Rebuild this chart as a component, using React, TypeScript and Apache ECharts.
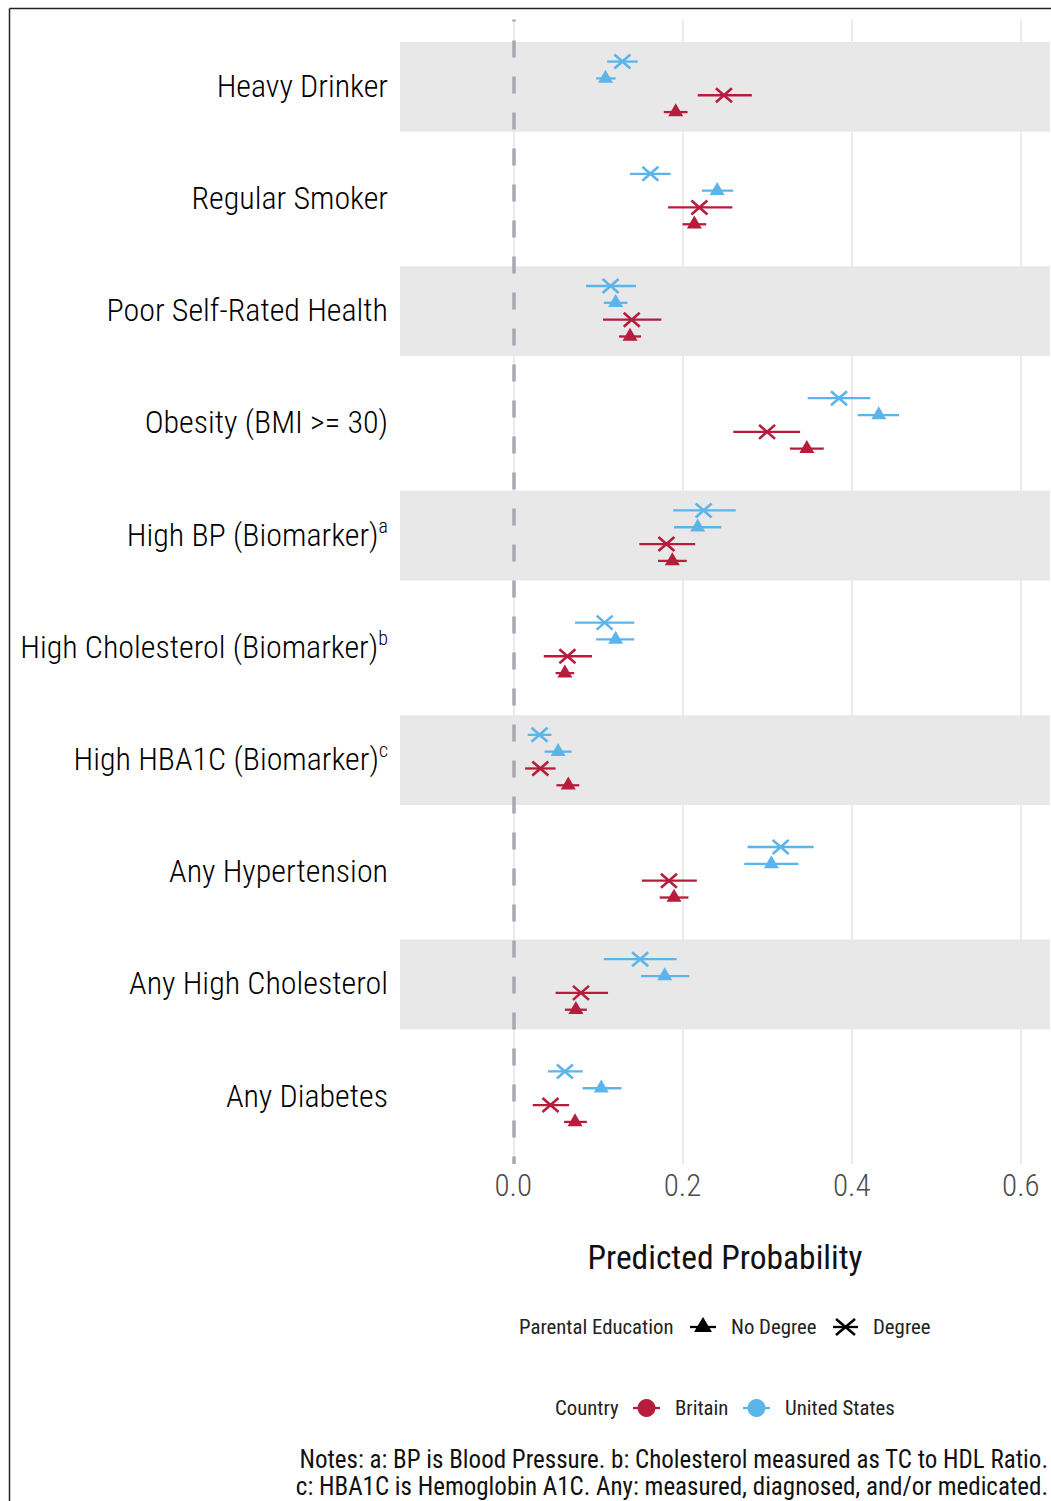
import React, { useEffect, useRef } from "react";
import * as echarts from "echarts";

const categories = [
  "Heavy Drinker",
  "Regular Smoker",
  "Poor Self-Rated Health",
  "Obesity (BMI >= 30)",
  "High BP (Biomarker)",
  "High Cholesterol (Biomarker)",
  "High HBA1C (Biomarker)",
  "Any Hypertension",
  "Any High Cholesterol",
  "Any Diabetes",
];
const superscripts = ["", "", "", "", "a", "b", "c", "", "", ""];
const bandRows = [0, 2, 4, 6, 8];
const xTicks = [0, 0.2, 0.4, 0.6];

// [estimate, lower, upper]
const usDegree = [
  [0.129, 0.111, 0.147],
  [0.162, 0.138, 0.186],
  [0.115, 0.086, 0.145],
  [0.385, 0.348, 0.422],
  [0.225, 0.189, 0.263],
  [0.108, 0.073, 0.143],
  [0.031, 0.017, 0.045],
  [0.316, 0.277, 0.355],
  [0.15, 0.107, 0.193],
  [0.061, 0.041, 0.082],
];
const usNoDegree = [
  [0.109, 0.098, 0.121],
  [0.241, 0.223, 0.26],
  [0.121, 0.107, 0.135],
  [0.432, 0.407, 0.456],
  [0.218, 0.19, 0.246],
  [0.121, 0.098, 0.143],
  [0.053, 0.037, 0.069],
  [0.305, 0.273, 0.337],
  [0.179, 0.151, 0.208],
  [0.104, 0.082, 0.128],
];
const britainDegree = [
  [0.249, 0.218, 0.282],
  [0.22, 0.183, 0.259],
  [0.14, 0.106, 0.175],
  [0.3, 0.26, 0.339],
  [0.181, 0.149, 0.215],
  [0.064, 0.036, 0.093],
  [0.032, 0.014, 0.05],
  [0.184, 0.152, 0.217],
  [0.08, 0.05, 0.112],
  [0.044, 0.023, 0.066],
];
const britainNoDegree = [
  [0.192, 0.178, 0.206],
  [0.214, 0.2, 0.228],
  [0.138, 0.125, 0.151],
  [0.347, 0.327, 0.367],
  [0.188, 0.171, 0.205],
  [0.061, 0.05, 0.072],
  [0.065, 0.051, 0.078],
  [0.19, 0.173, 0.207],
  [0.074, 0.061, 0.087],
  [0.073, 0.06, 0.087],
];

const RED = "#B71C3C";
const BLUE = "#5CB5EA";
const FONT =
  "'Roboto Condensed','Liberation Sans Narrow','DejaVu Sans Condensed','Arial Narrow',Roboto,sans-serif";
const X_MIN = -0.1339;
const X_MAX = 0.6344;
const LABEL_COLOR = "#4d4d4d";

function groupSeries(
  name: string,
  data: number[][],
  dodge: number,
  color: string,
  shape: "triangle" | "cross"
) {
  return {
    type: "custom",
    name,
    z: 5,
    data: data.map((d, i) => [d[0], d[1], d[2], i]),
    encode: { x: [0, 1, 2], y: 3 },
    renderItem: (_p: any, api: any) => {
      const yv = api.value(3) + dodge;
      const c = api.coord([api.value(0), yv]);
      const lo = api.coord([api.value(1), yv]);
      const hi = api.coord([api.value(2), yv]);
      const children: any[] = [
        {
          type: "line",
          shape: { x1: lo[0], y1: lo[1], x2: hi[0], y2: hi[1] },
          style: { stroke: color, lineWidth: 2.3 },
        },
      ];
      if (shape === "triangle") {
        children.push({
          type: "polygon",
          shape: {
            points: [
              [c[0], c[1] - 8.7],
              [c[0] - 7.5, c[1] + 4.3],
              [c[0] + 7.5, c[1] + 4.3],
            ],
          },
          style: { fill: color },
        });
      } else {
        children.push(
          {
            type: "line",
            shape: { x1: c[0] - 8, y1: c[1] - 7, x2: c[0] + 8, y2: c[1] + 7 },
            style: { stroke: color, lineWidth: 2.6 },
          },
          {
            type: "line",
            shape: { x1: c[0] - 8, y1: c[1] + 7, x2: c[0] + 8, y2: c[1] - 7 },
            style: { stroke: color, lineWidth: 2.6 },
          }
        );
      }
      return { type: "group", children };
    },
  };
}

export default function App() {
  const ref = useRef<HTMLDivElement>(null);
  useEffect(() => {
    if (!ref.current) return;
    const chart = echarts.init(ref.current, undefined, { renderer: "svg" });
    const legendY1 = 1327;
    const legendY2 = 1408;
    const legText = (text: string, x: number, y: number) => ({
      type: "text",
      x,
      y,
      style: { text, fontSize: 20.8, fill: "#222", fontFamily: FONT, verticalAlign: "middle" },
    });
    const option: any = {
      animation: false,
      backgroundColor: "#ffffff",
      textStyle: { fontFamily: FONT },
      grid: { left: 400, right: 1, top: 19.5, bottom: 337, containLabel: false },
      xAxis: {
        type: "value",
        min: X_MIN,
        max: X_MAX,
        splitNumber: 4,
        axisLine: { show: false },
        axisTick: { show: false },
        axisLabel: {
          showMinLabel: false,
          showMaxLabel: false,
          fontSize: 31,
          fontWeight: 300,
          color: LABEL_COLOR,
          fontFamily: FONT,
          margin: 6,
          formatter: (v: number) => (xTicks.some((t) => Math.abs(t - v) < 1e-6) ? v.toFixed(1) : ""),
        },
        splitLine: {
          show: true,
          showMinLine: false,
          showMaxLine: false,
          lineStyle: { color: "#E6E6E8", width: 1.6 },
        },
        name: "Predicted Probability",
        nameLocation: "middle",
        nameGap: 76,
        nameTextStyle: { fontSize: 33.5, color: "#111", fontFamily: FONT },
      },
      yAxis: {
        type: "value",
        min: -0.6,
        max: 9.6,
        inverse: true,
        show: false,
      },
      series: [
        {
          type: "custom",
          name: "bands",
          z: 1,
          silent: true,
          data: bandRows.map((r) => [r]),
          encode: { y: 0 },
          renderItem: (_p: any, api: any) => {
            const r = api.value(0);
            const a = api.coord([X_MIN, r - 0.4]);
            const b = api.coord([X_MAX, r + 0.4]);
            return {
              type: "rect",
              shape: { x: a[0], y: a[1], width: b[0] - a[0], height: b[1] - a[1] },
              style: { fill: "#E8E8E8" },
            };
          },
        },
        {
          type: "custom",
          name: "labels",
          z: 2,
          silent: true,
          data: categories.map((_c, i) => [X_MIN, i]),
          encode: { x: 0, y: 1 },
          renderItem: (p: any, api: any) => {
            const i = p.dataIndex;
            const c = api.coord([X_MIN, api.value(1)]);
            const sup = superscripts[i];
            const text = sup ? `{n|${categories[i]}}{s|${sup}}` : `{n|${categories[i]}}`;
            return {
              type: "text",
              x: c[0] - 12,
              y: c[1] - 1,
              style: {
                text,
                align: "right",
                verticalAlign: "middle",
                rich: {
                  n: { fontSize: 32, fontWeight: 300, color: LABEL_COLOR, fontFamily: FONT, lineHeight: 38 },
                  s: {
                    fontSize: 20,
                    fontWeight: 300,
                    color: LABEL_COLOR,
                    fontFamily: FONT,
                    verticalAlign: "top",
                    lineHeight: 20,
                  },
                },
              },
            };
          },
          markLine: {
            silent: true,
            symbol: "none",
            label: { show: false },
            lineStyle: { color: "#A6A8B2", width: 3.5, type: [17, 19], dashOffset: 15 },
            data: [{ xAxis: 0 }],
          },
        },
        groupSeries("United States - Degree", usDegree, -0.225, BLUE, "cross"),
        groupSeries("United States - No Degree", usNoDegree, -0.075, BLUE, "triangle"),
        groupSeries("Britain - Degree", britainDegree, 0.075, RED, "cross"),
        groupSeries("Britain - No Degree", britainNoDegree, 0.225, RED, "triangle"),
      ],
      graphic: [
        // frame
        { type: "line", shape: { x1: 9.5, y1: 8.5, x2: 1051, y2: 8.5 }, style: { stroke: "#222", lineWidth: 1.5 } },
        { type: "line", shape: { x1: 9.5, y1: 8.5, x2: 9.5, y2: 1501 }, style: { stroke: "#222", lineWidth: 1.5 } },
        // legend 1
        legText("Parental Education", 519, legendY1),
        { type: "line", shape: { x1: 690, y1: legendY1, x2: 716, y2: legendY1 }, style: { stroke: "#000", lineWidth: 2.3 } },
        {
          type: "polygon",
          shape: { points: [[703, legendY1 - 10], [694, legendY1 + 5], [712, legendY1 + 5]] },
          style: { fill: "#000" },
        },
        legText("No Degree", 731, legendY1),
        { type: "line", shape: { x1: 833, y1: legendY1, x2: 858, y2: legendY1 }, style: { stroke: "#000", lineWidth: 2.3 } },
        { type: "line", shape: { x1: 836, y1: legendY1 - 8, x2: 855, y2: legendY1 + 8 }, style: { stroke: "#000", lineWidth: 2.6 } },
        { type: "line", shape: { x1: 836, y1: legendY1 + 8, x2: 855, y2: legendY1 - 8 }, style: { stroke: "#000", lineWidth: 2.6 } },
        legText("Degree", 873, legendY1),
        // legend 2
        legText("Country", 555, legendY2),
        { type: "line", shape: { x1: 633, y1: legendY2, x2: 660, y2: legendY2 }, style: { stroke: RED, lineWidth: 2.3 } },
        { type: "circle", shape: { cx: 646.5, cy: legendY2, r: 9 }, style: { fill: RED } },
        legText("Britain", 675, legendY2),
        { type: "line", shape: { x1: 743, y1: legendY2, x2: 770, y2: legendY2 }, style: { stroke: BLUE, lineWidth: 2.3 } },
        { type: "circle", shape: { cx: 756.5, cy: legendY2, r: 9 }, style: { fill: BLUE } },
        legText("United States", 785, legendY2),
        // notes
        {
          type: "text",
          x: 1048,
          y: 1459,
          style: {
            text: "Notes: a: BP is Blood Pressure. b: Cholesterol measured as TC to HDL Ratio.",
            fontSize: 25,
            fill: "#111",
            fontFamily: FONT,
            align: "right",
            verticalAlign: "middle",
          },
        },
        {
          type: "text",
          x: 1048,
          y: 1486,
          style: {
            text: "c: HBA1C is Hemoglobin A1C. Any: measured, diagnosed, and/or medicated.",
            fontSize: 25,
            fill: "#111",
            fontFamily: FONT,
            align: "right",
            verticalAlign: "middle",
          },
        },
      ],
    };
    chart.setOption(option);
    return () => chart.dispose();
  }, []);
  return (
    <div
      ref={ref}
      style={{ position: "absolute", left: 0, top: 0, width: 1051, height: 1501 }}
    />
  );
}
